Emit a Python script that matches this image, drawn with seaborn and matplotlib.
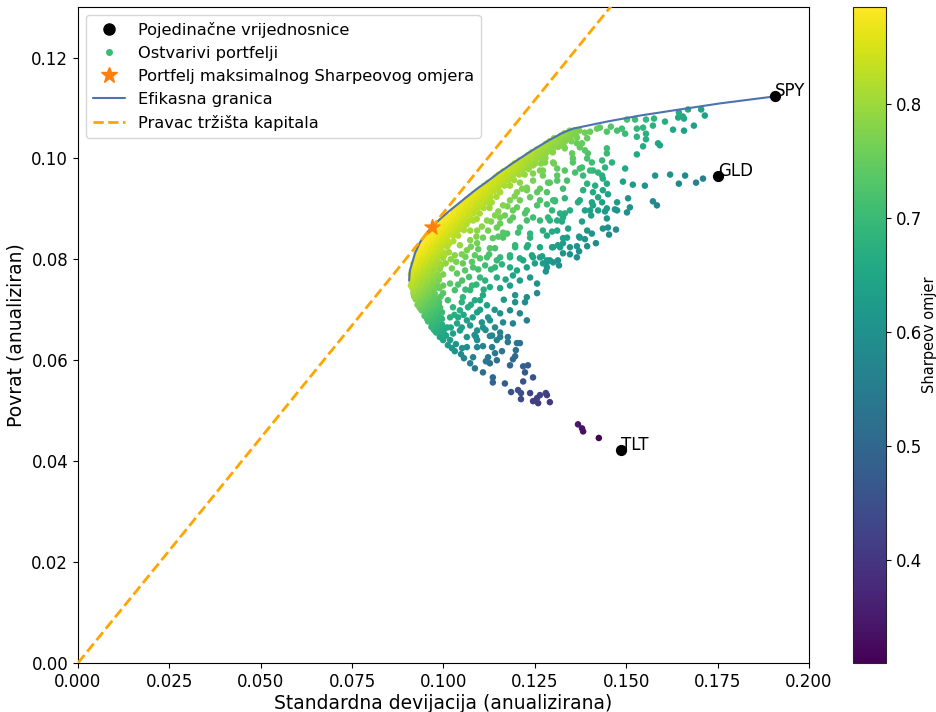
import numpy as np
import pandas as pd
import matplotlib
matplotlib.use("Agg")
import matplotlib.pyplot as plt
from matplotlib.lines import Line2D
from matplotlib.colors import Normalize
from matplotlib.cm import ScalarMappable
import seaborn as sns

# pojedinacne vrijednosnice
assets = ["SPY", "GLD", "TLT"]
asset_vol = [0.1907, 0.1751, 0.1486]
asset_ret = [0.1123, 0.0966, 0.0422]

# portfelj maksimalnog Sharpeovog omjera
star_vol = 0.0968
star_ret = 0.0864

# pravac trzista kapitala (rf = 0)
cml_vol = [0.0, 0.2]
cml_ret = [0.0, 0.1785]

# efikasna granica
frontier_vol = [0.0906, 0.0908, 0.0914, 0.0922, 0.0936, 0.0952, 0.0968, 0.0982, 0.1000,
                0.1018, 0.1040, 0.1064, 0.1090, 0.1119, 0.1150, 0.1182, 0.1215, 0.1245,
                0.1270, 0.1291, 0.1324, 0.1354, 0.1447, 0.1538, 0.1628, 0.1756, 0.1907]
frontier_ret = [0.0758, 0.0778, 0.0792, 0.0812, 0.0834, 0.0850, 0.0864, 0.0874, 0.0886,
                0.0897, 0.0910, 0.0924, 0.0939, 0.0954, 0.0971, 0.0987, 0.1003, 0.1017,
                0.1028, 0.1037, 0.1050, 0.1059, 0.1073, 0.1085, 0.1095, 0.1109, 0.1123]

# gusti dio oblaka uz granicu: (povrat, [devijacije])
dense_rows = [
    (0.1055, [0.1345, 0.1358, 0.1372]),
    (0.1045, [0.1321, 0.1334, 0.1349, 0.1363]),
    (0.1034, [0.1290, 0.1304, 0.1318, 0.1333, 0.1350]),
    (0.1023, [0.1272, 0.1285, 0.1299, 0.1314, 0.1330]),
    (0.1012, [0.1241, 0.1255, 0.1268, 0.1283, 0.1299]),
    (0.1001, [0.1223, 0.1236, 0.1250, 0.1264, 0.1279]),
    (0.0990, [0.1194, 0.1208, 0.1221, 0.1236, 0.1251, 0.1267]),
    (0.0979, [0.1177, 0.1190, 0.1204, 0.1218, 0.1233]),
    (0.0968, [0.1151, 0.1164, 0.1178, 0.1192, 0.1207, 0.1222]),
    (0.0957, [0.1137, 0.1150, 0.1164, 0.1178, 0.1193]),
    (0.0946, [0.1111, 0.1124, 0.1138, 0.1152, 0.1167, 0.1182]),
    (0.0935, [0.1097, 0.1110, 0.1124, 0.1138, 0.1153]),
    (0.0924, [0.1073, 0.1086, 0.1100, 0.1114, 0.1129, 0.1145]),
    (0.0913, [0.1060, 0.1073, 0.1087, 0.1101, 0.1116, 0.1132]),
    (0.0902, [0.1038, 0.1051, 0.1065, 0.1079, 0.1094, 0.1110, 0.1126]),
    (0.0891, [0.1027, 0.1040, 0.1054, 0.1068, 0.1083, 0.1099]),
    (0.0880, [0.1003, 0.1016, 0.1030, 0.1044, 0.1059, 0.1075, 0.1091]),
    (0.0869, [0.0991, 0.1004, 0.1018, 0.1032, 0.1047, 0.1063]),
    (0.0858, [0.0968, 0.0981, 0.0995, 0.1009, 0.1024, 0.1040, 0.1056]),
    (0.0847, [0.0956, 0.0969, 0.0983, 0.0997, 0.1012, 0.1028]),
    (0.0836, [0.0944, 0.0956, 0.0968, 0.0980, 0.0995, 0.1011, 0.1027]),
    (0.0825, [0.0938, 0.0951, 0.0965, 0.0979, 0.0994, 0.1010]),
    (0.0814, [0.0927, 0.0940, 0.0954, 0.0968, 0.0983, 0.0999, 0.1015]),
    (0.0803, [0.0927, 0.0940, 0.0954, 0.0968, 0.0983, 0.0999]),
    (0.0792, [0.0918, 0.0931, 0.0945, 0.0959, 0.0974, 0.0990, 0.1006]),
    (0.0781, [0.0918, 0.0931, 0.0945, 0.0959, 0.0974, 0.0990]),
    (0.0770, [0.0911, 0.0924, 0.0938, 0.0952, 0.0967, 0.0983, 0.0999]),
    (0.0759, [0.0915, 0.0928, 0.0942, 0.0956, 0.0971, 0.0987]),
    (0.0748, [0.0911, 0.0924, 0.0938, 0.0952, 0.0967, 0.0983, 0.0999]),
    (0.0737, [0.0918, 0.0931, 0.0945, 0.0959, 0.0974]),
    (0.0726, [0.0920, 0.0933, 0.0947, 0.0961, 0.0976, 0.0992]),
    (0.0715, [0.0932, 0.0945, 0.0959, 0.0973, 0.0988]),
    (0.0704, [0.0935, 0.0948, 0.0962, 0.0976, 0.0991]),
    (0.0693, [0.0950, 0.0963, 0.0977, 0.0991]),
    (0.0682, [0.0955, 0.0968, 0.0982, 0.0996]),
    (0.0671, [0.0969, 0.0982, 0.0996]),
    (0.0660, [0.0974, 0.0987, 0.1001]),
    (0.0649, [0.0994, 0.1007]),
]

dense_rows_b = [
    (0.1050, [0.1331, 0.1345, 0.1360]),
    (0.1040, [0.1302, 0.1316, 0.1330, 0.1346]),
    (0.1029, [0.1280, 0.1294, 0.1308, 0.1323]),
    (0.1018, [0.1256, 0.1270, 0.1284, 0.1299]),
    (0.1007, [0.1232, 0.1246, 0.1260, 0.1275]),
    (0.0996, [0.1208, 0.1222, 0.1236, 0.1251]),
    (0.0985, [0.1186, 0.1200, 0.1214, 0.1229]),
    (0.0974, [0.1163, 0.1177, 0.1191, 0.1206]),
    (0.0963, [0.1143, 0.1157, 0.1171, 0.1186]),
    (0.0952, [0.1122, 0.1136, 0.1150, 0.1165]),
    (0.0941, [0.1103, 0.1117, 0.1131, 0.1146]),
    (0.0930, [0.1083, 0.1097, 0.1111, 0.1126]),
    (0.0919, [0.1064, 0.1078, 0.1092, 0.1107, 0.1122]),
    (0.0908, [0.1047, 0.1061, 0.1075, 0.1090, 0.1105]),
    (0.0897, [0.1028, 0.1042, 0.1056, 0.1071, 0.1086]),
    (0.0886, [0.1010, 0.1024, 0.1038, 0.1053, 0.1068]),
    (0.0875, [0.0993, 0.1007, 0.1021, 0.1036, 0.1051, 0.1067]),
    (0.0864, [0.0977, 0.0991, 0.1005, 0.1020, 0.1035, 0.1050]),
    (0.0853, [0.0963, 0.0977, 0.0991, 0.1006, 0.1021, 0.1036]),
    (0.0842, [0.0952, 0.0966, 0.0980, 0.0995, 0.1010]),
    (0.0831, [0.0941, 0.0955, 0.0969, 0.0984, 0.0999, 0.1015]),
    (0.0820, [0.0934, 0.0948, 0.0962, 0.0977, 0.0992]),
    (0.0809, [0.0929, 0.0943, 0.0957, 0.0972, 0.0987, 0.1003]),
    (0.0798, [0.0924, 0.0938, 0.0952, 0.0967, 0.0982]),
    (0.0787, [0.0919, 0.0933, 0.0947, 0.0962, 0.0977, 0.0993]),
    (0.0776, [0.0915, 0.0929, 0.0943, 0.0958, 0.0973]),
    (0.0765, [0.0914, 0.0928, 0.0942, 0.0957, 0.0972, 0.0988]),
    (0.0754, [0.0913, 0.0927, 0.0941, 0.0956, 0.0971]),
    (0.0743, [0.0915, 0.0929, 0.0943, 0.0958, 0.0973, 0.0989]),
    (0.0732, [0.0918, 0.0932, 0.0946, 0.0961, 0.0976]),
    (0.0721, [0.0924, 0.0938, 0.0952, 0.0967, 0.0982]),
    (0.0710, [0.0929, 0.0943, 0.0957, 0.0972, 0.0987]),
    (0.0699, [0.0940, 0.0954, 0.0968, 0.0983]),
    (0.0688, [0.0948, 0.0962, 0.0976, 0.0991]),
    (0.0677, [0.0958, 0.0972, 0.0986]),
    (0.0666, [0.0967, 0.0981, 0.0995]),
    (0.0655, [0.0980, 0.0994]),
]

# rijetki portfelji (devijacija, povrat)
cloud_upper = [
    (0.1644, 0.1091), (0.1669, 0.1097), (0.1705, 0.1097), (0.1715, 0.1085), (0.1642, 0.1081),
    (0.1655, 0.1083), (0.1658, 0.1079), (0.1685, 0.1065), (0.1658, 0.1055), (0.1628, 0.1057),
    (0.1606, 0.1073), (0.1576, 0.1079), (0.1573, 0.1065), (0.1554, 0.1077), (0.1546, 0.1061),
    (0.1554, 0.1049), (0.1554, 0.1038), (0.1529, 0.1059), (0.1529, 0.1043), (0.1546, 0.1024),
    (0.1524, 0.1077), (0.1502, 0.1077), (0.1488, 0.1059), (0.1497, 0.1049), (0.1475, 0.1055),
    (0.1458, 0.1063), (0.1447, 0.1053), (0.1428, 0.1061), (0.1420, 0.1059), (0.1401, 0.1053),
    (0.1393, 0.1040), (0.1387, 0.1051), (0.1447, 0.1020), (0.1447, 0.1010), (0.1434, 0.0996),
    (0.1461, 0.0992), (0.1529, 0.1008), (0.1587, 0.1030), (0.1592, 0.1026), (0.1497, 0.0980),
    (0.1442, 0.0982), (0.1434, 0.0966), (0.1436, 0.0960), (0.1409, 0.0976), (0.1406, 0.0992),
    (0.1423, 0.0972), (0.1382, 0.0966), (0.1379, 0.0982), (0.1395, 0.1010), (0.1393, 0.1000),
    (0.1373, 0.1022), (0.1365, 0.1041), (0.1365, 0.1030), (0.1579, 0.0966), (0.1620, 0.0968),
    (0.1661, 0.0966), (0.1710, 0.0960), (0.1691, 0.0952), (0.1644, 0.0950), (0.1551, 0.0946),
    (0.1518, 0.0948), (0.1491, 0.0954), (0.1447, 0.0950), (0.1415, 0.0946), (0.1409, 0.0933),
    (0.1436, 0.0937), (0.1450, 0.0929), (0.1423, 0.0923), (0.1434, 0.0913), (0.1475, 0.0913),
    (0.1505, 0.0921), (0.1510, 0.0903), (0.1502, 0.0893), (0.1573, 0.0915), (0.1584, 0.0907),
    (0.1406, 0.0913), (0.1368, 0.0913), (0.1382, 0.0937), (0.1393, 0.0950), (0.1360, 0.0972),
    (0.1354, 0.0992), (0.1352, 0.1010), (0.1332, 0.1020), (0.1341, 0.1041), (0.1300, 0.0992),
    (0.1311, 0.0980), (0.1327, 0.0940), (0.1291, 0.0952), (0.1278, 0.0992), (0.1272, 0.0966),
    (0.1283, 0.0933), (0.1297, 0.0897), (0.1332, 0.0891), (0.1401, 0.0897), (0.1447, 0.0901),
    (0.1475, 0.0897), (0.1423, 0.0897), (0.1379, 0.1030), (0.1387, 0.1016), (0.1354, 0.1000),
    (0.1373, 0.0980), (0.1401, 0.0976), (0.1332, 0.0976), (0.1338, 0.0956), (0.1311, 0.0966),
    (0.1264, 0.0940), (0.1245, 0.0970), (0.1272, 0.0976), (0.1272, 0.1000), (0.1302, 0.0990),
    (0.1245, 0.0986), (0.1264, 0.0976), (0.1311, 0.0956), (0.1286, 0.0952), (0.1245, 0.0956),
    (0.1228, 0.0942), (0.1209, 0.0952), (0.1201, 0.0933), (0.1256, 0.0933),
]

cloud_mid = [
    (0.1283, 0.0909), (0.1305, 0.0915), (0.1409, 0.0907), (0.1469, 0.0899), (0.1442, 0.0895),
    (0.1404, 0.0887), (0.1447, 0.0881), (0.1379, 0.0875), (0.1327, 0.0883), (0.1324, 0.0875),
    (0.1291, 0.0877), (0.1272, 0.0857), (0.1297, 0.0855), (0.1341, 0.0861), (0.1393, 0.0857),
    (0.1406, 0.0851), (0.1371, 0.0845), (0.1436, 0.0861), (0.1450, 0.0863), (0.1472, 0.0859),
    (0.1453, 0.0849), (0.1387, 0.0840), (0.1417, 0.0832), (0.1365, 0.0826), (0.1371, 0.0816),
    (0.1393, 0.0826), (0.1327, 0.0842), (0.1327, 0.0832), (0.1319, 0.0824), (0.1327, 0.0812),
    (0.1346, 0.0810), (0.1270, 0.0806), (0.1283, 0.0794), (0.1291, 0.0798), (0.1280, 0.0776),
    (0.1316, 0.0788), (0.1228, 0.0937), (0.1209, 0.0917), (0.1264, 0.0917), (0.1300, 0.0917),
    (0.1332, 0.0921), (0.1373, 0.0917), (0.1387, 0.0897), (0.1346, 0.0897), (0.1319, 0.0891),
    (0.1286, 0.0883), (0.1245, 0.0883), (0.1223, 0.0891), (0.1190, 0.0897), (0.1182, 0.0877),
    (0.1155, 0.0871), (0.1163, 0.0853), (0.1204, 0.0853), (0.1237, 0.0843), (0.1283, 0.0847),
    (0.1311, 0.0857), (0.1338, 0.0843), (0.1373, 0.0843), (0.1346, 0.0824), (0.1300, 0.0824),
    (0.1264, 0.0824), (0.1228, 0.0824), (0.1196, 0.0824), (0.1182, 0.0804), (0.1218, 0.0798),
    (0.1245, 0.0804), (0.1272, 0.0792), (0.1313, 0.0798), (0.1365, 0.0804), (0.1141, 0.0822),
    (0.1146, 0.0798), (0.1119, 0.0804), (0.1305, 0.0917), (0.1237, 0.0923), (0.1182, 0.0917),
    (0.1155, 0.0933), (0.1163, 0.0907), (0.1201, 0.0903), (0.1228, 0.0897), (0.1256, 0.0907),
    (0.1264, 0.0877), (0.1311, 0.0877), (0.1228, 0.0877), (0.1209, 0.0863), (0.1190, 0.0883),
    (0.1155, 0.0883), (0.1146, 0.0863), (0.1119, 0.0877), (0.1127, 0.0911), (0.1108, 0.0923),
    (0.1081, 0.0877), (0.1064, 0.0891), (0.1053, 0.0863), (0.1092, 0.0857), (0.1174, 0.0851),
    (0.1237, 0.0851), (0.1141, 0.0887), (0.1168, 0.0887), (0.1040, 0.0847), (0.1073, 0.0857),
    (0.1122, 0.0857), (0.1031, 0.0808), (0.1045, 0.0828), (0.1073, 0.0838), (0.1086, 0.0808),
    (0.1114, 0.0788), (0.1059, 0.0778), (0.1105, 0.0865), (0.1130, 0.0875), (0.1150, 0.0895),
    (0.1175, 0.0905), (0.1195, 0.0925), (0.1215, 0.0940), (0.1090, 0.0845), (0.1150, 0.0845),
]

cloud_lower = [
    (0.1196, 0.0828), (0.1231, 0.0828), (0.1297, 0.0824), (0.1313, 0.0828), (0.1182, 0.0808),
    (0.1209, 0.0802), (0.1242, 0.0808), (0.1264, 0.0804), (0.1283, 0.0798), (0.1300, 0.0794),
    (0.1182, 0.0784), (0.1201, 0.0778), (0.1228, 0.0784), (0.1250, 0.0792), (0.1283, 0.0784),
    (0.1190, 0.0768), (0.1209, 0.0758), (0.1237, 0.0764), (0.1256, 0.0752), (0.1182, 0.0748),
    (0.1155, 0.0743), (0.1196, 0.0729), (0.1228, 0.0725), (0.1256, 0.0733), (0.1196, 0.0715),
    (0.1223, 0.0715), (0.1182, 0.0699), (0.1209, 0.0693), (0.1228, 0.0679), (0.1155, 0.0693),
    (0.1163, 0.0675), (0.1190, 0.0673), (0.1122, 0.0685), (0.1141, 0.0665), (0.1108, 0.0665),
    (0.1092, 0.0659), (0.1133, 0.0649), (0.1155, 0.0646), (0.1176, 0.0646), (0.1201, 0.0634),
    (0.1092, 0.0640), (0.1064, 0.0646), (0.1045, 0.0659), (0.1064, 0.0679), (0.1092, 0.0695),
    (0.1119, 0.0709), (0.1108, 0.0729), (0.1127, 0.0745), (0.1146, 0.0764), (0.1141, 0.0784),
    (0.1155, 0.0804), (0.1127, 0.0822), (0.1100, 0.0802), (0.1081, 0.0784), (0.1100, 0.0764),
    (0.1078, 0.0748), (0.1053, 0.0725), (0.1026, 0.0705), (0.1018, 0.0685), (0.1010, 0.0665),
    (0.1026, 0.0653), (0.0990, 0.0646), (0.1135, 0.0842), (0.1163, 0.0843), (0.1108, 0.0843),
    (0.1092, 0.0832), (0.1064, 0.0818), (0.1053, 0.0792), (0.1037, 0.0772), (0.1018, 0.0752),
    (0.0999, 0.0733), (0.0982, 0.0713), (0.1067, 0.0705), (0.1040, 0.0685), (0.0971, 0.0685),
    (0.1023, 0.0782), (0.1051, 0.0758), (0.1073, 0.0739), (0.1031, 0.0739), (0.1012, 0.0719),
    (0.1045, 0.0699), (0.0996, 0.0695), (0.1086, 0.0719), (0.1114, 0.0758), (0.1100, 0.0719),
    (0.1127, 0.0679), (0.1073, 0.0669), (0.1037, 0.0673),
    (0.1035, 0.0795), (0.1060, 0.0805), (0.1078, 0.0795), (0.1095, 0.0780), (0.1070, 0.0765),
    (0.1090, 0.0750), (0.1110, 0.0740), (0.1060, 0.0740), (0.1040, 0.0750), (0.1050, 0.0715),
    (0.1075, 0.0710), (0.1100, 0.0700), (0.1030, 0.0690), (0.1055, 0.0690), (0.1080, 0.0685),
    (0.1105, 0.0675), (0.1020, 0.0665), (0.1050, 0.0665), (0.1085, 0.0650), (0.1115, 0.0660),
    (0.1140, 0.0700), (0.1165, 0.0720), (0.1170, 0.0760), (0.1130, 0.0780), (0.1160, 0.0790),
    (0.1125, 0.0810), (0.1095, 0.0820), (0.1075, 0.0825), (0.1050, 0.0810), (0.1020, 0.0800),
    (0.0999, 0.0640), (0.1012, 0.0630), (0.1031, 0.0618), (0.1048, 0.0612), (0.1056, 0.0604),
    (0.1064, 0.0626), (0.1073, 0.0594), (0.1081, 0.0606), (0.1086, 0.0584), (0.1089, 0.0646),
    (0.1092, 0.0626), (0.1108, 0.0628), (0.1108, 0.0576), (0.1116, 0.0598), (0.1122, 0.0606),
    (0.1127, 0.0648), (0.1127, 0.0594), (0.1133, 0.0626), (0.1135, 0.0566), (0.1135, 0.0556),
    (0.1141, 0.0614), (0.1146, 0.0640), (0.1146, 0.0600), (0.1155, 0.0655), (0.1160, 0.0618),
    (0.1168, 0.0554), (0.1176, 0.0636), (0.1182, 0.0590), (0.1185, 0.0537), (0.1190, 0.0602),
    (0.1196, 0.0608), (0.1198, 0.0620), (0.1204, 0.0541), (0.1209, 0.0634), (0.1212, 0.0535),
    (0.1212, 0.0523), (0.1218, 0.0588), (0.1218, 0.0558), (0.1223, 0.0576), (0.1231, 0.0590),
    (0.1237, 0.0535), (0.1245, 0.0566), (0.1245, 0.0519), (0.1256, 0.0525), (0.1259, 0.0515),
    (0.1264, 0.0531), (0.1280, 0.0535), (0.1283, 0.0531), (0.1291, 0.0517), (0.1368, 0.0473),
    (0.1379, 0.0465), (0.1382, 0.0459), (0.1425, 0.0446),
    (0.1004, 0.0650), (0.1018, 0.0640), (0.1034, 0.0632), (0.1051, 0.0624), (0.1023, 0.0624),
]

# skupljanje oblaka
rows = []
for r, vols in dense_rows + dense_rows_b:
    for v in vols:
        rows.append((v, r))
rows += cloud_upper + cloud_mid + cloud_lower
cloud = pd.DataFrame(rows, columns=["vol", "ret"])
cloud["sharpe"] = cloud["ret"] / cloud["vol"]
# najprije tamniji pa svjetliji, kao u originalu zuti pojas ide gore
cloud = cloud.sort_values("sharpe")

sns.set_style("ticks")
plt.rcParams["font.family"] = ["DejaVu Sans"]
plt.rcParams["text.color"] = "black"
plt.rcParams["axes.labelcolor"] = "black"

norm = Normalize(vmin=0.31, vmax=0.885)
cmap = plt.get_cmap("viridis")

fig = plt.figure(figsize=(9.37, 7.12), dpi=100)
ax = fig.add_axes([0.0832, 0.0688, 0.7802, 0.9213])
cax = fig.add_axes([0.9104, 0.0688, 0.0352, 0.9213])

sns.scatterplot(data=cloud, x="vol", y="ret", hue="sharpe", palette="viridis",
                hue_norm=norm, s=22, linewidth=0, legend=False, ax=ax, zorder=2)
sns.lineplot(x=frontier_vol, y=frontier_ret, sort=False, estimator=None,
             color="#4c72b0", linewidth=1.5, ax=ax, zorder=3)
ax.plot(cml_vol, cml_ret, linestyle="--", color="orange", linewidth=2, zorder=3)
ax.scatter([star_vol], [star_ret], marker="*", s=130, color="tab:orange", zorder=5)
ax.scatter(asset_vol, asset_ret, color="black", s=50, zorder=5)
for name, v, r in zip(assets, asset_vol, asset_ret):
    ax.text(v, r, name, fontsize=12, color="black", zorder=6)

ax.set_xlim(0, 0.2)
ax.set_ylim(0, 0.13)
ax.set_xticks(np.arange(0, 0.2001, 0.025))
ax.set_yticks(np.arange(0, 0.121, 0.02))
ax.xaxis.set_major_formatter(matplotlib.ticker.FormatStrFormatter("%.3f"))
ax.yaxis.set_major_formatter(matplotlib.ticker.FormatStrFormatter("%.2f"))
ax.tick_params(labelsize=12, colors="black")
ax.set_xlabel("Standardna devijacija (anualizirana)", fontsize=13.5, labelpad=2)
ax.set_ylabel("Povrat (anualiziran)", fontsize=13.5)
for sp in ax.spines.values():
    sp.set_color("black")

handles = [
    Line2D([], [], marker="o", linestyle="", color="black", markersize=8),
    Line2D([], [], marker="o", linestyle="", color=cmap(norm(0.70)), markersize=4),
    Line2D([], [], marker="*", linestyle="", color="tab:orange", markersize=12),
    Line2D([], [], color="#4c72b0", linewidth=1.5),
    Line2D([], [], color="orange", linestyle="--", linewidth=2),
]
labels = ["Pojedinačne vrijednosnice", "Ostvarivi portfelji",
          "Portfelj maksimalnog Sharpeovog omjera", "Efikasna granica",
          "Pravac tržišta kapitala"]
leg = ax.legend(handles, labels, loc="upper left", fontsize=11.7)
for t in leg.get_texts():
    t.set_color("black")

cb = fig.colorbar(ScalarMappable(norm=norm, cmap=cmap), cax=cax)
cb.set_ticks([0.4, 0.5, 0.6, 0.7, 0.8])
cb.ax.tick_params(labelsize=12, colors="black")
cb.set_label("Sharpeov omjer", fontsize=10.5, color="black")
cb.ax.yaxis.set_label_coords(2.1, 0.5)

fig.savefig("out.png", dpi=100)
